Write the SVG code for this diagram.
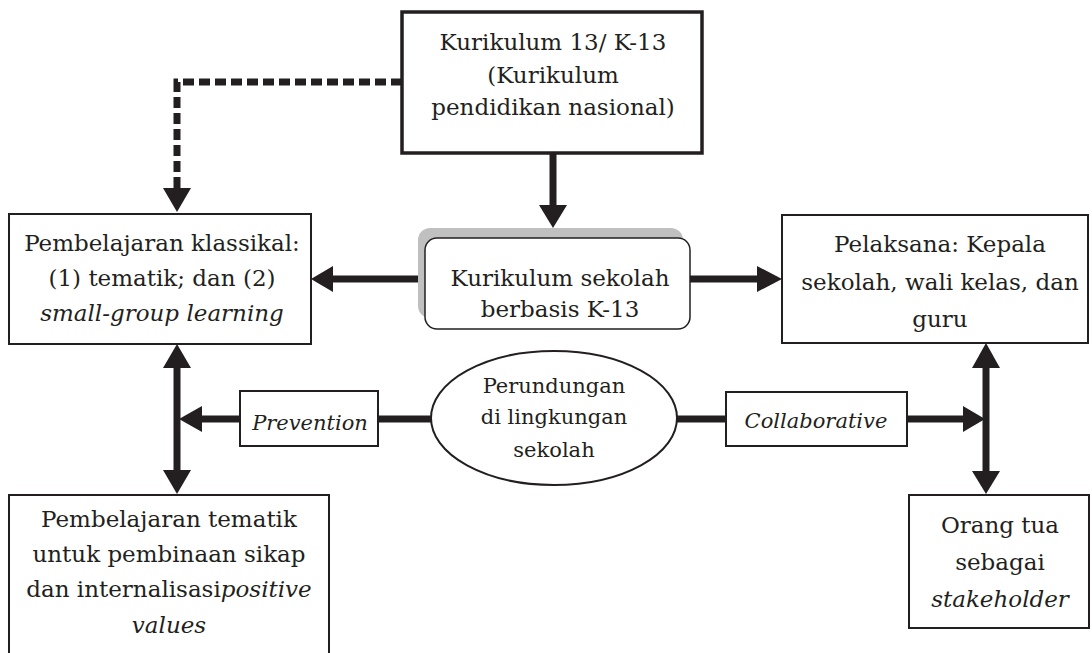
<svg xmlns="http://www.w3.org/2000/svg" width="1092" height="653" viewBox="0 0 1092 653">
<style>
.box{fill:#fff;stroke:#231f20;stroke-width:2}
.t{font-family:"DejaVu Serif","Liberation Serif",serif;font-size:23px;fill:#231f20;text-anchor:middle}
.s{font-size:21px}
.i{font-style:italic}
.ln{stroke:#231f20;stroke-width:7;fill:none}
.hd{fill:#231f20}
</style>
<rect width="1092" height="653" fill="#fff"/>
<g id="connectors">
<path class="ln" d="M402,82 H177 V188" stroke-width="6" stroke-dasharray="11 5"/>
<polygon class="hd" points="163,188 191,188 177,212"/>
<line class="ln" x1="553" y1="154" x2="553" y2="206"/>
<polygon class="hd" points="539,205 567,205 553,228"/>
<line class="ln" x1="425" y1="279" x2="332" y2="279"/>
<polygon class="hd" points="333,266 333,292 311,279"/>
<line class="ln" x1="690" y1="279" x2="758" y2="279"/>
<polygon class="hd" points="757,266 757,292 782,279"/>
<line class="ln" x1="177" y1="367" x2="177" y2="471"/>
<polygon class="hd" points="163,368 191,368 177,344"/>
<polygon class="hd" points="163,470 191,470 177,494"/>
<line class="ln" x1="240" y1="419" x2="201" y2="419"/>
<polygon class="hd" points="202,406 202,432 179,419"/>
<line class="ln" x1="378" y1="419" x2="432" y2="419"/>
<line class="ln" x1="676" y1="419" x2="726" y2="419"/>
<line class="ln" x1="907" y1="419" x2="964" y2="419"/>
<polygon class="hd" points="963,406 963,432 985,419"/>
<line class="ln" x1="986" y1="367" x2="986" y2="472"/>
<polygon class="hd" points="972,368 1000,368 986,343"/>
<polygon class="hd" points="972,471 1000,471 986,494"/>
</g>
<g id="node-k13">
<rect x="402" y="12" width="300" height="141" fill="#fff" stroke="#231f20" stroke-width="3.5"/>
<text class="t" x="553" y="50">Kurikulum 13/ K-13</text>
<text class="t" x="553" y="83">(Kurikulum</text>
<text class="t" x="553" y="115">pendidikan nasional)</text>
</g>
<g id="node-sekolah">
<rect x="418" y="228" width="265" height="90" rx="12" fill="#c0c0c0"/>
<rect x="425" y="238" width="265" height="91" rx="12" fill="#fff" stroke="#231f20" stroke-width="1.5"/>
<text class="t" x="560" y="286">Kurikulum sekolah</text>
<text class="t" x="560" y="317">berbasis K-13</text>
</g>
<g id="node-klasikal">
<rect class="box" x="9" y="214" width="302" height="130"/>
<text class="t" x="162" y="251">Pembelajaran klassikal:</text>
<text class="t" x="162" y="286">(1) tematik; dan (2)</text>
<text class="t i" x="162" y="321">small-group learning</text>
</g>
<g id="node-pelaksana">
<rect class="box" x="782" y="215" width="306" height="128"/>
<text class="t" x="940" y="252">Pelaksana: Kepala</text>
<text class="t" x="940" y="290">sekolah, wali kelas, dan</text>
<text class="t" x="940" y="327">guru</text>
</g>
<g id="node-prevention">
<rect class="box" x="240" y="391" width="138" height="55"/>
<text class="t s i" x="310" y="430">Prevention</text>
</g>
<g id="node-perundungan">
<ellipse cx="554" cy="418" rx="123" ry="67" fill="#fff" stroke="#231f20" stroke-width="2"/>
<text class="t s" x="554" y="393">Perundungan</text>
<text class="t s" x="554" y="424">di lingkungan</text>
<text class="t s" x="554" y="457">sekolah</text>
</g>
<g id="node-collaborative">
<rect class="box" x="726" y="392" width="181" height="54"/>
<text class="t s i" x="816" y="428">Collaborative</text>
</g>
<g id="node-tematik">
<rect class="box" x="9" y="495" width="320" height="170"/>
<text class="t" x="169" y="527">Pembelajaran tematik</text>
<text class="t" x="169" y="562">untuk pembinaan sikap</text>
<text class="t" x="169" y="597">dan internalisasi<tspan class="i">positive</tspan></text>
<text class="t i" x="169" y="633">values</text>
</g>
<g id="node-orangtua">
<rect class="box" x="909" y="495" width="180" height="133"/>
<text class="t" x="1000" y="533">Orang tua</text>
<text class="t" x="1000" y="570">sebagai</text>
<text class="t i" x="1000" y="607">stakeholder</text>
</g>
</svg>
